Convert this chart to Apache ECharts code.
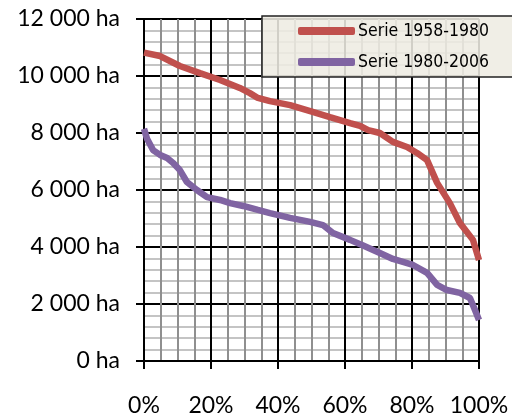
<!DOCTYPE html>
<html>
<head>
<meta charset="utf-8">
<script src="https://cdn.jsdelivr.net/npm/echarts@6/dist/echarts.min.js"></script>
<style>html,body{margin:0;padding:0;background:#fff}#c{width:512px;height:419px}</style>
</head>
<body>
<div id="c"></div>
<script>
var seriesNames = ['Serie 1958-1980', 'Serie 1980-2006'];
var redX = [0, 4.8, 10.7, 16.7, 22.7, 28.6, 31.6, 34, 37.6, 43.6, 49.6, 55.5, 61.5, 64.5, 66.9, 70.4, 74.3, 78.5, 81.5, 84.5, 87.5, 91.3, 94.3, 98.2, 100];
var redY = [10820, 10700, 10350, 10100, 9860, 9580, 9400, 9230, 9120, 8980, 8770, 8560, 8350, 8250, 8100, 8000, 7690, 7510, 7300, 7050, 6250, 5540, 4840, 4250, 3540];
var purpleX = [0, 0.9, 2.7, 4.8, 6.9, 8.7, 10.7, 12.8, 15.8, 18.8, 22.7, 25.7, 29.6, 34, 37.6, 43.6, 49.6, 53.4, 56.4, 61.5, 65.4, 70.4, 74.3, 80.3, 84.5, 87.5, 90.4, 94.3, 97.3, 98.8, 100];
var purpleY = [8150, 7800, 7400, 7230, 7120, 6950, 6700, 6280, 6000, 5750, 5650, 5540, 5440, 5300, 5190, 5020, 4880, 4770, 4490, 4250, 4050, 3790, 3580, 3370, 3090, 2670, 2490, 2390, 2210, 1790, 1440];
var yTickValues = [0, 2000, 4000, 6000, 8000, 10000, 12000];
var yTickLabels = ['0 ha', '2 000 ha', '4 000 ha', '6 000 ha', '8 000 ha', '10 000 ha', '12 000 ha'];
var xTickValues = [0, 20, 40, 60, 80, 100];
var xTickLabels = ['0%', '20%', '40%', '60%', '80%', '100%'];

function zip(xs, ys) { return xs.map(function (x, i) { return [x, ys[i]]; }); }

var labelFont = "Lato, 'Open Sans', sans-serif";
var chart = echarts.init(document.getElementById('c'));
chart.setOption({
  animation: false,
  backgroundColor: '#fff',
  grid: { left: 144, right: 33, top: 19, bottom: 58, containLabel: false },
  xAxis: {
    type: 'value', min: 0, max: 100, interval: 20,
    axisLine: { show: true, onZero: false, lineStyle: { color: '#000', width: 2 } },
    axisTick: { show: true, length: 8, lineStyle: { color: '#000', width: 2 } },
    axisLabel: { margin: 33, fontFamily: labelFont, fontSize: 23, color: '#000',
      formatter: function (v) { var i = xTickValues.indexOf(v); return i >= 0 ? xTickLabels[i] : ''; } },
    splitLine: { show: true, lineStyle: { color: '#000', width: 2 } },
    minorTick: { show: false, splitNumber: 4 },
    minorSplitLine: { show: true, lineStyle: { color: '#8f8f8f', width: 2 } }
  },
  yAxis: {
    type: 'value', min: 0, max: 12000, interval: 2000,
    axisLine: { show: true, lineStyle: { color: '#000', width: 2 } },
    axisTick: { show: true, length: 8, lineStyle: { color: '#000', width: 2 } },
    axisLabel: { margin: 24, fontFamily: labelFont, fontSize: 23, color: '#000',
      formatter: function (v) { var i = yTickValues.indexOf(v); return i >= 0 ? yTickLabels[i] : ''; } },
    splitLine: { show: true, lineStyle: { color: '#000', width: 2 } },
    minorTick: { show: false, splitNumber: 5 },
    minorSplitLine: { show: true, lineStyle: { color: '#c4c4c4', width: 2 } }
  },
  legend: {
    orient: 'vertical', left: 262, top: 16,
    padding: [5, 80, 5, 36], itemGap: 11,
    itemWidth: 57, itemHeight: 8, icon: 'roundRect',
    backgroundColor: 'rgba(238,236,226,0.88)', borderColor: '#222', borderWidth: 1.5,
    textStyle: { fontFamily: "'DejaVu Sans Condensed', sans-serif", fontSize: 17.5, color: '#000', padding: [0, 0, 0, -2], lineHeight: 20 },
    data: seriesNames
  },
  series: [
    { name: seriesNames[0], type: 'line', data: zip(redX, redY), showSymbol: false, symbol: 'none',
      lineStyle: { color: '#c0504d', width: 6.5 }, itemStyle: { color: '#c0504d' } },
    { name: seriesNames[1], type: 'line', data: zip(purpleX, purpleY), showSymbol: false, symbol: 'none',
      lineStyle: { color: '#8064a2', width: 6.5 }, itemStyle: { color: '#8064a2' } }
  ]
});
</script>
</body>
</html>
